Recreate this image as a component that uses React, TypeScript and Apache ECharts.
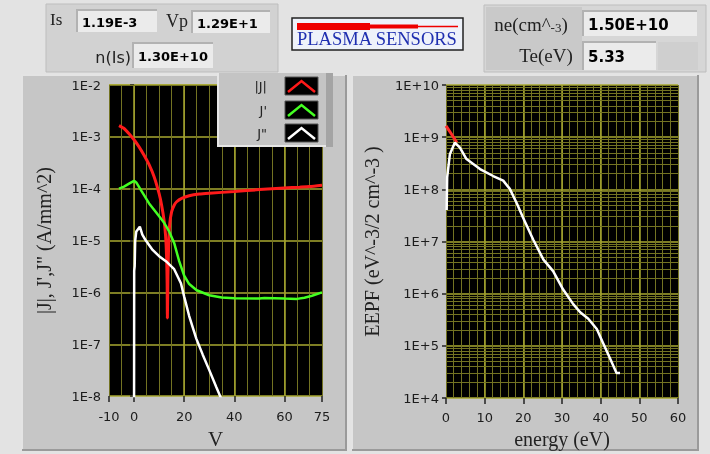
import React, { useEffect, useRef } from 'react';
import * as echarts from 'echarts';

// ---- header values ----
const IS_VALUE = '1.19E-3';
const VP_VALUE = '1.29E+1';
const NIS_VALUE = '1.30E+10';
const NE_VALUE = '1.50E+10';
const TE_VALUE = '5.33';

// ---- left chart: |J|, J', J'' vs V ----
const leftXTicks = [-10, 0, 20, 40, 60, 75];
const absJ: [number, number][] = [
  [-6, 1.65e-3], [-4, 1.45e-3], [-2, 1.15e-3], [0, 8.8e-4], [2, 6.4e-4], [4, 4.4e-4],
  [6, 2.9e-4], [8, 1.7e-4], [10, 8e-5], [11, 4.8e-5], [12, 2.4e-5], [12.6, 1.2e-5],
  [13.0, 4.5e-6], [13.2, 1.5e-6], [13.3, 3.2e-7], [13.5, 2e-6], [13.8, 8e-6], [14.2, 2e-5],
  [15, 3.6e-5], [16, 4.8e-5], [17, 5.6e-5], [19, 6.5e-5], [22, 7.3e-5], [26, 7.9e-5],
  [30, 8.2e-5], [40, 8.8e-5], [50, 9.6e-5], [60, 1.03e-4], [66, 1.07e-4], [70, 1.1e-4],
  [75, 1.17e-4],
];
const dJ: [number, number][] = [
  [-6, 1.0e-4], [-4, 1.1e-4], [-2, 1.25e-4], [0, 1.42e-4], [1, 1.3e-4], [3, 9e-5],
  [6, 5.2e-5], [9, 3.4e-5], [12, 2.2e-5], [14, 1.5e-5], [16, 9e-6], [18, 4e-6],
  [20, 2.1e-6], [22, 1.45e-6], [25, 1.1e-6], [30, 8.8e-7], [35, 8e-7], [40, 7.7e-7],
  [50, 7.6e-7], [52, 7.8e-7], [60, 7.6e-7], [65, 7.5e-7], [68, 7.9e-7], [71, 8.6e-7],
  [75, 1.0e-6],
];
const d2J: [number, number][] = [
  [0, 5e-9], [0.05, 2.6e-6], [0.25, 3.2e-6], [0.45, 1e-5], [0.9, 1.5e-5], [2.3, 1.85e-5],
  [3.3, 1.3e-5], [4.7, 1e-5], [7.4, 6.6e-6], [10, 5e-6], [12.7, 4e-6], [16, 2.8e-6],
  [18.7, 1.5e-6], [20, 8.3e-7], [22, 3.5e-7], [24.8, 1.3e-7], [27.4, 6.3e-8],
  [30.1, 3.1e-8], [32.8, 1.5e-8], [35.2, 8e-9],
];

// ---- right chart: EEPF vs energy ----
const eepfFit: [number, number][] = [[0, 1.65e9], [1.4, 1.15e9], [2.8, 7.9e8]];
const eepf: [number, number][] = [
  [0.17, 4e7], [0.3, 1.7e8], [1, 4.7e8], [2.3, 7.9e8], [3.6, 6.3e8], [5.3, 3.8e8],
  [8.8, 2.45e8], [12.2, 1.8e8], [14.8, 1.47e8], [16.5, 1.02e8], [18.3, 5.4e7],
  [20, 2.8e7], [22.6, 1.07e7], [25.2, 4.5e6], [27.7, 2.7e6], [30.3, 1.2e6],
  [32.9, 6.3e5], [34.7, 4.4e5], [36.8, 3.3e5], [39, 2.1e5], [40.7, 1.1e5],
  [42.4, 5.8e4], [44.1, 3e4], [45, 3e4],
];

const MAJOR = '#a9a930';
const MINOR = '#737322';
const LABEL = '#1c1c1c';
const SANS = 'DejaVu Sans';
const SERIF = 'Liberation Serif';

const fmtExp = (v: number) => {
  const e = Math.round(Math.log10(v));
  return '1E' + (e >= 0 ? '+' : '') + e;
};

function minorLog(e0: number, e1: number) {
  const out: number[] = [];
  for (let e = e0; e < e1; e++) for (let m = 2; m <= 9; m++) out.push(Number((m * Math.pow(10, e)).toPrecision(3)));
  return out;
}

function gridMarks(vMajor: number[], hMinor: number[]) {
  return {
    silent: true,
    z: 1,
    symbol: ['none', 'none'],
    label: { show: false },
    emphasis: { disabled: true },
    data: [
      ...vMajor.map((x) => ({ xAxis: x, lineStyle: { color: MAJOR, width: 1.5, type: 'solid' } })),
      ...hMinor.map((y) => ({ yAxis: y, lineStyle: { color: MINOR, width: 1, type: 'solid' } })),
    ],
  };
}

function field(x: number, y: number, w: number, h: number, text: string, size: number) {
  return [
    { type: 'rect', z: -5, shape: { x, y, width: w, height: h }, style: { fill: '#ebebeb' } },
    { type: 'polyline', z: -4, shape: { points: [[x, y + h], [x, y], [x + w, y]] }, style: { stroke: '#b2b2b2', lineWidth: 2, fill: 'none' } },
    { type: 'text', z: -3, x: x + 5, y: y + h / 2 + 1, style: { text, font: `bold ${size}px "${SANS}"`, fill: '#000', textVerticalAlign: 'middle' } },
  ];
}

function panel(x: number, y: number, w: number, h: number) {
  return [
    { type: 'rect', z: -10, shape: { x, y, width: w, height: h }, style: { fill: '#c6c6c6' } },
    { type: 'polyline', z: -9, shape: { points: [[x, y + h], [x, y], [x + w, y]] }, style: { stroke: '#e4e4e4', lineWidth: 2, fill: 'none' } },
    { type: 'polyline', z: -9, shape: { points: [[x + w, y], [x + w, y + h], [x, y + h]] }, style: { stroke: '#9a9a9a', lineWidth: 2, fill: 'none' } },
  ];
}

function legendRow(y: number, label: string, color: string) {
  return [
    { type: 'text', z: 52, x: 267, y: y + 9, style: { text: label, font: `13px "${SANS}"`, fill: '#222', textAlign: 'right', textVerticalAlign: 'middle' } },
    { type: 'rect', z: 52, shape: { x: 285, y, width: 33, height: 18 }, style: { fill: '#000', stroke: '#555', lineWidth: 1 } },
    { type: 'polyline', z: 53, shape: { points: [[288, y + 15], [301.5, y + 4], [315, y + 15]] }, style: { stroke: color, lineWidth: 2.5, fill: 'none' } },
  ];
}

export default function App() {
  const ref = useRef<HTMLDivElement>(null);
  useEffect(() => {
    const chart = echarts.init(ref.current!, null, { renderer: 'svg' });
    const graphic: any[] = [
      { type: 'rect', z: -20, shape: { x: 0, y: 0, width: 710, height: 454 }, style: { fill: '#e3e3e3' } },
      ...panel(22, 75, 324, 375),
      ...panel(352, 75, 346, 375),
      // top-left box
      { type: 'rect', z: -8, shape: { x: 46, y: 4, width: 232, height: 68 }, style: { fill: '#d2d2d2', stroke: '#bdbdbd', lineWidth: 1 } },
      { type: 'text', z: -3, x: 50, y: 19, style: { text: 'Is', font: `17px "${SERIF}"`, fill: '#222', textVerticalAlign: 'middle' } },
      ...field(77, 10, 80, 22, IS_VALUE, 13),
      { type: 'text', z: -3, x: 166, y: 21, style: { text: 'Vp', font: `18px "${SERIF}"`, fill: '#222', textVerticalAlign: 'middle' } },
      ...field(192, 11, 78, 22, VP_VALUE, 13),
      { type: 'text', z: -3, x: 131, y: 57, style: { text: 'n(Is)', font: `16px "${SANS}"`, fill: '#222', textAlign: 'right', textVerticalAlign: 'middle' } },
      ...field(133, 43, 80, 25, NIS_VALUE, 13),
      // logo
      { type: 'rect', z: -8, shape: { x: 292, y: 18, width: 171, height: 32 }, style: { fill: '#eef2fa', stroke: '#222', lineWidth: 1.5 } },
      { type: 'rect', z: -7, shape: { x: 297, y: 23, width: 73, height: 7 }, style: { fill: '#ee0000' } },
      { type: 'rect', z: -7, shape: { x: 370, y: 24.5, width: 48, height: 4 }, style: { fill: '#ee0000' } },
      { type: 'line', z: -7, shape: { x1: 418, y1: 26.5, x2: 458, y2: 26.5 }, style: { stroke: '#ee0000', lineWidth: 1.5 } },
      { type: 'text', z: -7, x: 297, y: 48, style: { text: 'PLASMA SENSORS', font: `18.5px "${SERIF}"`, fill: '#1f2fb0', textVerticalAlign: 'bottom' } },
      // right box
      { type: 'rect', z: -8, shape: { x: 484, y: 5, width: 222, height: 67 }, style: { fill: '#d6d6d6', stroke: '#bdbdbd', lineWidth: 1 } },
      { type: 'rect', z: -7, shape: { x: 486, y: 7, width: 96, height: 63 }, style: { fill: '#c9c9c9' } },
      {
        type: 'text', z: -3, x: 531, y: 24,
        style: {
          text: '{a|ne(cm^}{b|-3}{a|)}',
          textAlign: 'center', textVerticalAlign: 'middle',
          rich: {
            a: { font: `19px "${SERIF}"`, fill: '#222' },
            b: { font: `13px "${SERIF}"`, fill: '#222', padding: [6, 0, 0, 0] },
          },
        },
      },
      { type: 'text', z: -3, x: 546, y: 55, style: { text: 'Te(eV)', font: `19px "${SERIF}"`, fill: '#222', textAlign: 'center', textVerticalAlign: 'middle' } },
      ...field(583, 11, 114, 25, NE_VALUE, 15),
      ...field(583, 42, 73, 28, TE_VALUE, 15),
      { type: 'rect', z: -7, shape: { x: 658, y: 42, width: 40, height: 28 }, style: { fill: '#cfcfcf' } },
      // legend
      { type: 'rect', z: 50, shape: { x: 217, y: 73, width: 116, height: 74 }, style: { fill: '#c4c4c4' } },
      { type: 'polyline', z: 51, shape: { points: [[218, 73], [218, 146], [326, 146]] }, style: { stroke: '#e6e6e6', lineWidth: 2, fill: 'none' } },
      { type: 'rect', z: 51, shape: { x: 326, y: 73, width: 7, height: 74 }, style: { fill: '#a4a4a4' } },
      ...legendRow(77, '|J|', '#ff1a1a'),
      ...legendRow(101, "J'", '#44ff22'),
      ...legendRow(124, 'J"', '#ffffff'),
    ];

    const option: any = {
      animation: false,
      textStyle: { fontFamily: SANS },
      graphic,
      grid: [
        { left: 109, top: 85, width: 213, height: 321, show: true, backgroundColor: '#000', borderWidth: 0 },
        { left: 446, top: 85, width: 232, height: 317, show: true, backgroundColor: '#000', borderWidth: 0 },
      ],
      xAxis: [
        {
          type: 'value', gridIndex: 0, min: -10, max: 75,
          axisLine: { show: false },
          axisTick: { show: true, length: 6, customValues: leftXTicks, lineStyle: { color: '#222', width: 1.5 } },
          axisLabel: { customValues: leftXTicks, color: LABEL, fontSize: 13, margin: 14, fontFamily: SANS },
          splitLine: { show: false },
          name: 'V', nameLocation: 'middle', nameGap: 30,
          nameTextStyle: { fontFamily: SERIF, fontSize: 21, color: '#222' },
        },
        {
          type: 'value', gridIndex: 0, min: -10, max: 75, interval: 5, position: 'top',
          axisLine: { show: false }, axisTick: { show: false }, axisLabel: { show: false },
          splitLine: { show: true, lineStyle: { color: MINOR, width: 1 } },
        },
        {
          type: 'value', gridIndex: 1, min: 0, max: 60, interval: 10,
          axisLine: { show: false },
          axisTick: { show: true, length: 6, lineStyle: { color: '#222', width: 1.5 } },
          axisLabel: { color: LABEL, fontSize: 13, margin: 13, fontFamily: SANS },
          splitLine: { show: false },
          name: 'energy (eV)', nameLocation: 'middle', nameGap: 31,
          nameTextStyle: { fontFamily: SERIF, fontSize: 20, color: '#222' },
        },
        {
          type: 'value', gridIndex: 1, min: 0, max: 60, interval: 2, position: 'top',
          axisLine: { show: false }, axisTick: { show: false }, axisLabel: { show: false },
          splitLine: { show: true, lineStyle: { color: MINOR, width: 1 } },
        },
      ],
      yAxis: [
        {
          type: 'log', gridIndex: 0, min: 1e-8, max: 1e-2, logBase: 10,
          axisLine: { show: false },
          axisTick: { show: true, length: 4, lineStyle: { color: '#222', width: 1.5 } },
          axisLabel: { formatter: fmtExp, color: LABEL, fontSize: 13, margin: 8, fontFamily: SANS },
          splitLine: { show: true, lineStyle: { color: MAJOR, width: 1.5 } },
          name: '|J|, J\',J" (A/mm^2)', nameLocation: 'middle', nameGap: 55,
          nameTextStyle: { fontFamily: SERIF, fontSize: 20, color: '#222' },
        },
        {
          type: 'log', gridIndex: 1, min: 1e4, max: 1e10, logBase: 10,
          axisLine: { show: false },
          axisTick: { show: true, length: 4, lineStyle: { color: '#222', width: 1.5 } },
          axisLabel: { formatter: fmtExp, color: LABEL, fontSize: 13, margin: 7, fontFamily: SANS },
          splitLine: { show: true, lineStyle: { color: MAJOR, width: 1.5 } },
          name: 'EEPF (eV^-3/2 cm^-3 )', nameLocation: 'middle', nameGap: 64,
          nameTextStyle: { fontFamily: SERIF, fontSize: 20, color: '#222' },
        },
      ],
      series: [
        {
          type: 'line', name: '|J|', xAxisIndex: 0, yAxisIndex: 0, data: absJ, showSymbol: false, z: 3,
          smooth: 0.2,
          lineStyle: { color: '#ff1a1a', width: 3 }, itemStyle: { color: '#ff1a1a' },
          markLine: gridMarks([0, 20, 40, 60], minorLog(-8, -2)),
        },
        {
          type: 'line', name: "J'", xAxisIndex: 0, yAxisIndex: 0, data: dJ, showSymbol: false, z: 3,
          lineStyle: { color: '#44ff22', width: 2.5 }, itemStyle: { color: '#44ff22' },
        },
        {
          type: 'line', name: 'J"', xAxisIndex: 0, yAxisIndex: 0, data: d2J, showSymbol: false, z: 3,
          lineStyle: { color: '#ffffff', width: 2.5 }, itemStyle: { color: '#ffffff' },
        },
        {
          type: 'line', name: 'fit', xAxisIndex: 2, yAxisIndex: 1, data: eepfFit, showSymbol: false, z: 3,
          lineStyle: { color: '#ff2a2a', width: 3 }, itemStyle: { color: '#ff2a2a' },
          markLine: gridMarks([10, 20, 30, 40, 50], minorLog(4, 10)),
        },
        {
          type: 'line', name: 'EEPF', xAxisIndex: 2, yAxisIndex: 1, data: eepf, showSymbol: false, z: 4,
          lineStyle: { color: '#ffffff', width: 2.5 }, itemStyle: { color: '#ffffff' },
        },
      ],
    };
    chart.setOption(option);
    return () => chart.dispose();
  }, []);
  return <div ref={ref} style={{ position: 'fixed', left: 0, top: 0, width: 710, height: 454 }} />;
}
